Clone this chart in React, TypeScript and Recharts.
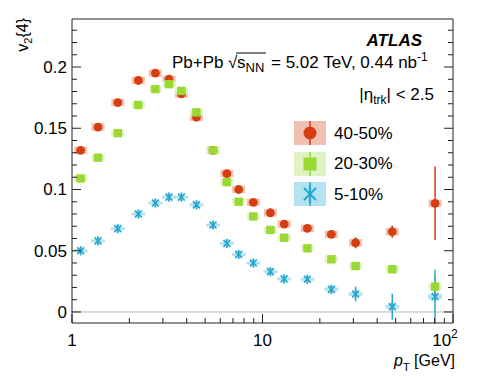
import React from 'react';
import { ScatterChart, Scatter, XAxis, YAxis, ErrorBar, ReferenceLine, Legend } from 'recharts';

const FONT = "'Liberation Sans', Arial, Helvetica, sans-serif";

// pT bin centres [GeV]
const pT = [1.11, 1.37, 1.74, 2.23, 2.74, 3.23, 3.75, 4.5, 5.5, 6.5, 7.5, 8.95, 11.0, 13.0, 17.2, 23.0, 30.8, 48.0, 80.5];

// 40-50%
const v40 = [0.132, 0.151, 0.171, 0.189, 0.195, 0.190, 0.178, 0.159, 0.132, 0.113, 0.100, 0.0895, 0.081, 0.0718, 0.0683, 0.0634, 0.0565, 0.0655, 0.0887];
const stat40 = [0.0008, 0.0008, 0.0008, 0.0008, 0.0008, 0.0008, 0.0009, 0.001, 0.0011, 0.0013, 0.0015, 0.0017, 0.0018, 0.002, 0.002, 0.0025, 0.0045, 0.005, 0.030];
const sys40 = [0.003, 0.003, 0.003, 0.003, 0.003, 0.003, 0.003, 0.003, 0.003, 0.003, 0.003, 0.003, 0.003, 0.003, 0.003, 0.003, 0.003, 0.003, 0.003];

// 20-30%
const v20 = [0.109, 0.126, 0.146, 0.169, 0.182, 0.186, 0.1805, 0.163, 0.132, 0.106, 0.090, 0.078, 0.067, 0.0606, 0.052, 0.043, 0.0375, 0.0349, 0.0207];
const stat20 = [0.0005, 0.0005, 0.0005, 0.0005, 0.0005, 0.0005, 0.0005, 0.0006, 0.0006, 0.0007, 0.0008, 0.0009, 0.001, 0.001, 0.001, 0.0012, 0.0015, 0.002, 0.009];
const sys20 = [0.0025, 0.0025, 0.0025, 0.0025, 0.0025, 0.0025, 0.0025, 0.0025, 0.0025, 0.0025, 0.0025, 0.0025, 0.0025, 0.0025, 0.0025, 0.0025, 0.0025, 0.0025, 0.0025];

// 5-10%
const v5 = [0.050, 0.058, 0.068, 0.080, 0.089, 0.0938, 0.0938, 0.0875, 0.071, 0.056, 0.047, 0.040, 0.0329, 0.027, 0.0267, 0.0185, 0.0147, 0.0043, 0.0125];
const stat5 = [0.0005, 0.0005, 0.0005, 0.0005, 0.0005, 0.0005, 0.0005, 0.0005, 0.0006, 0.0007, 0.0008, 0.0009, 0.001, 0.0015, 0.002, 0.003, 0.006, 0.0106, 0.022];
const sys5 = [0.0012, 0.0012, 0.0012, 0.0012, 0.0012, 0.0012, 0.0012, 0.0012, 0.0012, 0.0012, 0.0012, 0.0012, 0.0012, 0.0012, 0.0012, 0.0015, 0.0015, 0.0015, 0.002];

const seriesNames = ['40-50%', '20-30%', '5-10%'];
const seriesColors = ['#d63e10', '#9ad934', '#27a9cf'];
const seriesLight = ['#f2c0b0', '#e0f2c6', '#b4e2ef'];

const xTicks = [1, 2, 3, 4, 5, 6, 7, 8, 9, 10, 20, 30, 40, 50, 60, 70, 80, 90, 100];
const xMajor = [1, 10, 100];
const yTicks = [0, 0.01, 0.02, 0.03, 0.04, 0.05, 0.06, 0.07, 0.08, 0.09, 0.1, 0.11, 0.12, 0.13, 0.14, 0.15, 0.16, 0.17, 0.18, 0.19, 0.2, 0.21, 0.22, 0.23];
const yMajor = [0, 0.05, 0.1, 0.15, 0.2];
const yMajorLabels = ['0', '0.05', '0.1', '0.15', '0.2'];

const makeData = (v: number[], stat: number[], sys: number[]) =>
  pT.map((x, i) => ({ x, y: v[i], stat: stat[i], sys: sys[i] }));

const data40 = makeData(v40, stat40, sys40);
const data20 = makeData(v20, stat20, sys20);
const data5 = makeData(v5, stat5, sys5);

const AXIS = '#222';

function BottomTick(props: any) {
  const { x, y, payload } = props;
  const v = payload.value;
  const major = xMajor.includes(v);
  const len = major ? 9 : 5;
  return (
    <g>
      <line x1={x} x2={x} y1={y} y2={y - len} stroke={AXIS} strokeWidth={1} />
      {v === 1 && (
        <text x={x} y={y + 23} textAnchor="middle" fontFamily={FONT} fontSize={17} fill="#000">1</text>
      )}
      {v === 10 && (
        <text x={x} y={y + 23} textAnchor="middle" fontFamily={FONT} fontSize={17} fill="#000">10</text>
      )}
      {v === 100 && (
        <text x={x - 8} y={y + 23} textAnchor="middle" fontFamily={FONT} fontSize={17} fill="#000">
          10<tspan fontSize={12} dy={-8}>2</tspan>
        </text>
      )}
    </g>
  );
}

function TopTick(props: any) {
  const { x, y, payload } = props;
  const major = xMajor.includes(payload.value);
  const len = major ? 9 : 5;
  return <line x1={x} x2={x} y1={y} y2={y + len} stroke={AXIS} strokeWidth={1} />;
}

function LeftTick(props: any) {
  const { x, y, payload } = props;
  const idx = yMajor.indexOf(payload.value);
  const major = idx >= 0;
  const len = major ? 9 : 5;
  return (
    <g>
      <line x1={x} x2={x + len} y1={y} y2={y} stroke={AXIS} strokeWidth={1} />
      {major && (
        <text x={x - 5} y={y + 6} textAnchor="end" fontFamily={FONT} fontSize={17} fill="#000">
          {yMajorLabels[idx]}
        </text>
      )}
    </g>
  );
}

function RightTick(props: any) {
  const { x, y, payload } = props;
  const major = yMajor.includes(payload.value);
  const len = major ? 9 : 5;
  return <line x1={x} x2={x - len} y1={y} y2={y} stroke={AXIS} strokeWidth={1} />;
}

function Circle(props: any) {
  const { cx, cy } = props;
  if (cx == null || cy == null) return null;
  return <circle cx={cx} cy={cy} r={4.4} fill={seriesColors[0]} />;
}
function Square(props: any) {
  const { cx, cy } = props;
  if (cx == null || cy == null) return null;
  return <rect x={cx - 4.2} y={cy - 4.2} width={8.4} height={8.4} fill={seriesColors[1]} />;
}
function Star(props: any) {
  const { cx, cy } = props;
  if (cx == null || cy == null) return null;
  const r = 4.6;
  const d = r * 0.75;
  return (
    <g stroke={seriesColors[2]} strokeWidth={1.8}>
      <line x1={cx} x2={cx} y1={cy - r} y2={cy + r} />
      <line x1={cx - d} x2={cx + d} y1={cy - d} y2={cy + d} />
      <line x1={cx - d} x2={cx + d} y1={cy + d} y2={cy - d} />
    </g>
  );
}

function LegendIcon({ i }: { i: number }) {
  const c = seriesColors[i];
  return (
    <svg width={32} height={24} style={{ display: 'block' }}>
      <rect x={0} y={0} width={32} height={24} fill={seriesLight[i]} />
      <line x1={16} x2={16} y1={0} y2={24} stroke={c} strokeWidth={1.5} />
      {i === 0 && <circle cx={16} cy={12} r={6.5} fill={c} />}
      {i === 1 && <rect x={9.5} y={5.5} width={13} height={13} fill={c} />}
      {i === 2 && (
        <g stroke={c} strokeWidth={2.2}>
          <line x1={16} x2={16} y1={3} y2={21} />
          <line x1={10} x2={22} y1={6} y2={18} />
          <line x1={10} x2={22} y1={18} y2={6} />
        </g>
      )}
    </svg>
  );
}

function LegendContent() {
  return (
    <div style={{ fontFamily: FONT, fontSize: 17, color: '#000' }}>
      {seriesNames.map((n, i) => (
        <div key={n} style={{ display: 'flex', alignItems: 'center', height: 30.5 }}>
          <LegendIcon i={i} />
          <span style={{ marginLeft: 8, lineHeight: '17px' }}>{n}</span>
        </div>
      ))}
    </div>
  );
}

const Y_DOMAIN: [number, number] = [-0.009, 0.2392];

export default function App() {
  return (
    <div style={{ position: 'absolute', left: 0, top: 0, width: 478, height: 381, background: '#fff' }}>
      <ScatterChart width={478} height={381} margin={{ top: 0, right: 0, bottom: 0, left: 0 }}>
        <XAxis
          dataKey="x"
          type="number"
          scale="log"
          domain={[1, 100]}
          ticks={xTicks}
          interval={0}
          allowDataOverflow
          height={58}
          tickSize={0}
          tickMargin={0}
          tickLine={false}
          axisLine={{ stroke: AXIS }}
          tick={<BottomTick />}
        />
        <XAxis
          xAxisId="top"
          orientation="top"
          type="number"
          scale="log"
          domain={[1, 100]}
          ticks={xTicks}
          interval={0}
          allowDataOverflow
          height={19}
          tickSize={0}
          tickMargin={0}
          tickLine={false}
          axisLine={{ stroke: AXIS }}
          tick={<TopTick />}
        />
        <YAxis
          dataKey="y"
          type="number"
          domain={Y_DOMAIN}
          ticks={yTicks}
          interval={0}
          allowDataOverflow
          width={72}
          tickSize={0}
          tickMargin={0}
          tickLine={false}
          axisLine={{ stroke: AXIS }}
          tick={<LeftTick />}
        />
        <YAxis
          yAxisId="right"
          orientation="right"
          type="number"
          domain={Y_DOMAIN}
          ticks={yTicks}
          interval={0}
          allowDataOverflow
          width={25}
          tickSize={0}
          tickMargin={0}
          tickLine={false}
          axisLine={{ stroke: AXIS }}
          tick={<RightTick />}
        />
        <ReferenceLine y={0} stroke="#b8b8b8" strokeWidth={1} />
        <Scatter name={seriesNames[0]} data={data40} fill={seriesColors[0]} shape={<Circle />} isAnimationActive={false}>
          <ErrorBar dataKey="sys" direction="y" width={0} strokeWidth={13} stroke={seriesLight[0]} isAnimationActive={false} />
          <ErrorBar dataKey="stat" direction="y" width={0} strokeWidth={1.5} stroke={seriesColors[0]} isAnimationActive={false} />
        </Scatter>
        <Scatter name={seriesNames[1]} data={data20} fill={seriesColors[1]} shape={<Square />} isAnimationActive={false}>
          <ErrorBar dataKey="sys" direction="y" width={0} strokeWidth={13} stroke={seriesLight[1]} isAnimationActive={false} />
          <ErrorBar dataKey="stat" direction="y" width={0} strokeWidth={1.5} stroke={seriesColors[1]} isAnimationActive={false} />
        </Scatter>
        <Scatter name={seriesNames[2]} data={data5} fill={seriesColors[2]} shape={<Star />} isAnimationActive={false}>
          <ErrorBar dataKey="sys" direction="y" width={0} strokeWidth={14} stroke={seriesLight[2]} isAnimationActive={false} />
          <ErrorBar dataKey="stat" direction="y" width={0} strokeWidth={1.5} stroke={seriesColors[2]} isAnimationActive={false} />
        </Scatter>
        <Legend
          layout="horizontal"
          verticalAlign="middle"
          align="center"
          content={<LegendContent />}
          wrapperStyle={{ left: 294, top: 118, width: 120 }}
        />
        <text transform="rotate(-90)" x={-18} y={28} textAnchor="end" fontFamily={FONT} fontSize={16} fill="#000">
          v<tspan fontSize={11} dy={4}>2</tspan><tspan dy={-4}>{'{4}'}</tspan>
        </text>
        <text x={455} y={366} textAnchor="end" fontFamily={FONT} fontSize={16} fill="#000">
          <tspan fontStyle="italic">p</tspan><tspan fontSize={11} dy={5}>T</tspan><tspan dy={-5}> [GeV]</tspan>
        </text>
        <text x={422} y={46} textAnchor="end" fontFamily={FONT} fontSize={17} fontWeight="bold" fontStyle="italic" fill="#000">ATLAS</text>
        <text x={172} y={68} fontFamily={FONT} fontSize={17} fill="#000">Pb+Pb</text>
        <text x={228} y={68} fontFamily={FONT} fontSize={17} fill="#000">√</text>
        <line x1={236} x2={266} y1={53} y2={53} stroke="#000" strokeWidth={1} />
        <text x={237} y={68} fontFamily={FONT} fontSize={17} fill="#000">
          s<tspan fontSize={13} dy={4}>NN</tspan>
        </text>
        <text x={271} y={68} fontFamily={FONT} fontSize={17} fill="#000">
          = 5.02 TeV, 0.44 nb<tspan fontSize={12} dy={-7}>-1</tspan>
        </text>
        <text x={434} y={100} textAnchor="end" fontFamily={FONT} fontSize={17} fill="#000">
          |η<tspan fontSize={12} dy={4}>trk</tspan><tspan dy={-4}>| &lt; 2.5</tspan>
        </text>
      </ScatterChart>
    </div>
  );
}
